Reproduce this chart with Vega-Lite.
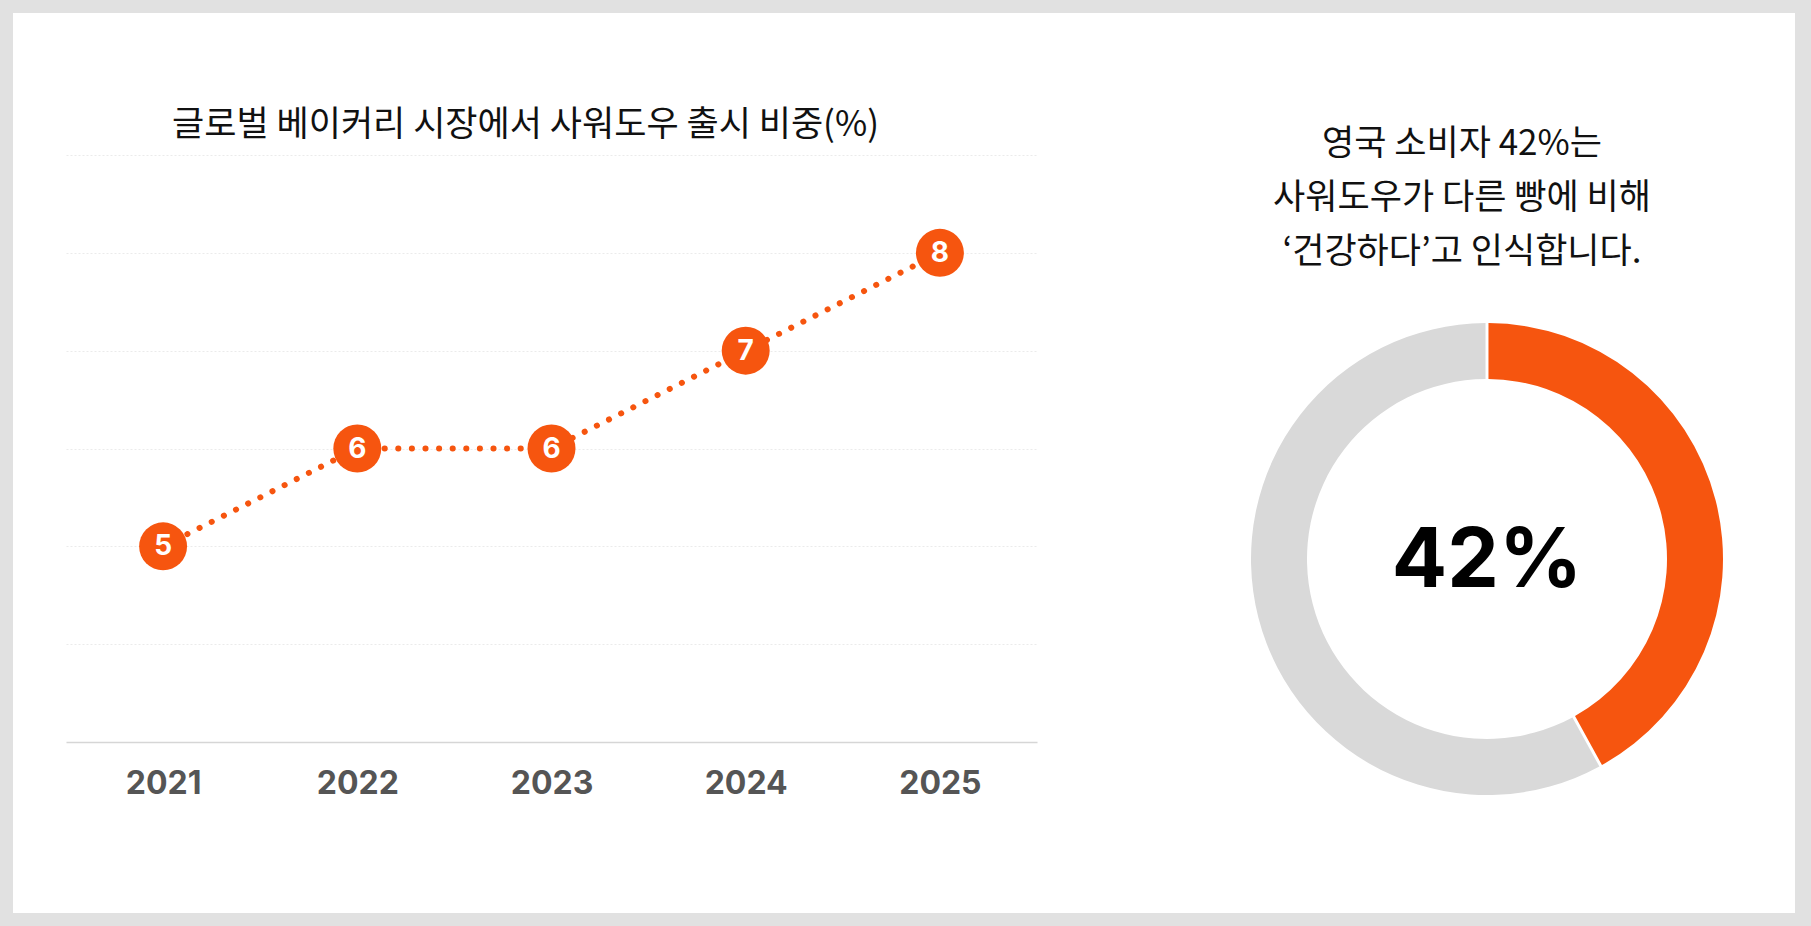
{
  "$schema": "https://vega.github.io/schema/vega-lite/v6.json",
  "width": 1782,
  "height": 900,
  "padding": {"left": 13, "top": 13, "right": 16, "bottom": 13},
  "autosize": {"type": "none"},
  "background": "#e1e1e1",
  "config": {"view": {"fill": "white", "stroke": null}},
  "resolve": {"scale": {"x": "independent", "y": "independent"}},
  "layer": [
    {
      "data": {"values": [
        {"year": "2021", "value": 5},
        {"year": "2022", "value": 6},
        {"year": "2023", "value": 6},
        {"year": "2024", "value": 7},
        {"year": "2025", "value": 8}
      ]},
      "encoding": {
        "x": {
          "field": "year", "type": "ordinal",
          "scale": {"type": "point", "padding": 0.5, "range": [53, 1024]},
          "axis": {"title": null, "labelAngle": 0, "labelFont": "Inter", "labelFontSize": 32, "labelFontWeight": "bold", "labelColor": "#555555", "ticks": false, "tickSize": 0, "domainColor": "#d6d6d6", "domainWidth": 1.5, "labelPadding": 26, "offset": -171, "grid": false}
        },
        "y": {
          "field": "value", "type": "quantitative",
          "scale": {"domain": [3, 9], "range": [729, 142], "nice": false, "zero": false},
          "axis": {"title": null, "labels": false, "ticks": false, "domain": false, "grid": true, "values": [4, 5, 6, 7, 8, 9], "gridColor": "#ebebeb", "gridDash": [2, 2], "gridWidth": 1}
        }
      },
      "layer": [
        {"mark": {"type": "line", "color": "#F6550F", "strokeWidth": 6, "strokeDash": [0.1, 13.5], "strokeCap": "round"}},
        {"mark": {"type": "circle", "color": "#F6550F", "size": 2300, "opacity": 1}},
        {"mark": {"type": "text", "color": "white", "font": "Inter", "fontSize": 28, "fontWeight": "bold", "baseline": "middle", "dy": 1}, "encoding": {"text": {"field": "value"}}}
      ]
    },
    {
      "layer": [
        {
          "data": {"values": [
            {"k": "건강하다", "v": 42, "o": 1},
            {"k": "기타", "v": 58, "o": 2}
          ]},
          "mark": {"type": "arc", "innerRadius": 180, "outerRadius": 236, "padAngle": 0.01},
          "encoding": {
            "theta": {"field": "v", "type": "quantitative", "stack": true},
            "order": {"field": "o"},
            "color": {"field": "k", "type": "nominal", "scale": {"domain": ["건강하다", "기타"], "range": ["#F6550F", "#D9D9D9"]}, "legend": null},
            "x": {"datum": 0.5, "type": "quantitative", "scale": {"domain": [0, 1], "range": [1238, 1710]}, "axis": null},
            "y": {"datum": 0.5, "type": "quantitative", "scale": {"domain": [0, 1], "range": [782, 310]}, "axis": null}
          }
        },
        {
          "data": {"values": [{"t": "42%"}]},
          "mark": {"type": "text", "color": "#000000", "font": "Inter", "fontSize": 82, "fontWeight": "bold", "baseline": "middle", "align": "center", "dy": 3},
          "encoding": {
            "text": {"field": "t"},
            "x": {"datum": 0.5, "type": "quantitative"},
            "y": {"datum": 0.5, "type": "quantitative"}
          }
        },
        {
          "data": {"values": [{"t": "영국 소비자 42%는\n사워도우가 다른 빵에 비해\n‘건강하다’고 인식합니다."}]},
          "mark": {"type": "text", "color": "#111111", "font": "Noto Sans CJK KR", "fontSize": 35, "lineBreak": "\n", "lineHeight": 54, "baseline": "middle", "align": "center"},
          "encoding": {
            "text": {"field": "t"},
            "x": {"datum": 0.447, "type": "quantitative"},
            "y": {"datum": 1.379, "type": "quantitative"}
          }
        },
        {
          "data": {"values": [{"t": "글로벌 베이커리 시장에서 사워도우 출시 비중(%)"}]},
          "mark": {"type": "text", "color": "#111111", "font": "Noto Sans CJK KR", "fontSize": 35, "baseline": "middle", "align": "center"},
          "encoding": {
            "text": {"field": "t"},
            "x": {"datum": -1.537, "type": "quantitative"},
            "y": {"datum": 1.419, "type": "quantitative"}
          }
        }
      ]
    }
  ]
}
